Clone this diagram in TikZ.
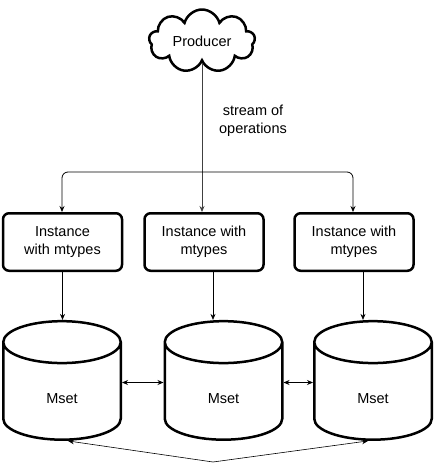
\documentclass[tikz,border=0pt]{standalone}
\usepackage{fontspec}
\setmainfont{Liberation Sans}
\usetikzlibrary{shapes.symbols,shapes.geometric,arrows.meta,positioning}

\begin{document}
\begin{tikzpicture}[x=1pt,y=-1pt,
    every node/.style={font=\fontsize{14.5}{18}\selectfont},
    cloudbox/.style={cloud,draw,line width=2.5pt,cloud puffs=9,aspect=1.9,
      minimum width=106pt,minimum height=56pt,inner sep=0pt},
    instbox/.style={draw,line width=2.5pt,rounded corners=6pt,
      minimum width=119pt,minimum height=57.5pt,align=center},
    msetcyl/.style={cylinder,draw,line width=2.5pt,shape border rotate=90,
      aspect=1.1,minimum width=117.5pt,minimum height=118.5pt,
      label={[yshift=-3.5pt]center:Mset}},
    link/.style={-{Stealth[length=6pt,width=5pt]},line width=0.8pt},
    both/.style={{Stealth[length=6pt,width=5pt]}-{Stealth[length=6pt,width=5pt]},line width=0.8pt}]
  \useasboundingbox (0,0) rectangle (435,472);
  % producer and its stream
  \node[cloudbox] (prod) at (202,41) {Producer};
  \node[align=center] (ops) at (253,121) {stream of\\operations};
  % instances
  \node[instbox] (i1) at (62.5,242) {Instance\\with mtypes};
  \node[instbox] (i2) at (204,242) {Instance with\\mtypes};
  \node[instbox] (i3) at (354,242) {Instance with\\mtypes};
  % msets
  \node[msetcyl] (m1) at (62,395) {\phantom{Mset}};
  \node[msetcyl] (m2) at (223.5,395) {\phantom{Mset}};
  \node[msetcyl] (m3) at (373,395) {\phantom{Mset}};
  \coordinate (split) at (202,172);
  \coordinate (low) at (213,462);
  \draw[link,black!75] (prod.south) -- (prod.south |- i2.north);
  \draw[link,rounded corners=6pt] (split) -| ([xshift=-0.5pt]i1.north);
  \draw[link,rounded corners=6pt] (split) -| ([xshift=-1pt]i3.north);
  \draw[link] (i1.south) -- (i1.south |- m1.north);
  \draw[link] ([xshift=9pt]i2.south) -- ([xshift=9pt]i2.south |- m2.north);
  \draw[link] ([xshift=9pt]i3.south) -- ([xshift=9pt]i3.south |- m3.north);
  \draw[both] ([yshift=12.5pt]m1.east) -- ([yshift=12.5pt]m2.west);
  \draw[both] ([yshift=12.5pt]m2.east) -- ([yshift=12.5pt]m3.west);
  \draw[link,line width=0.6pt] (low) -- ([xshift=6pt]m1.south);
  \draw[link,line width=0.6pt] (low) -- ([xshift=-5pt]m3.south);
\end{tikzpicture}
\end{document}
